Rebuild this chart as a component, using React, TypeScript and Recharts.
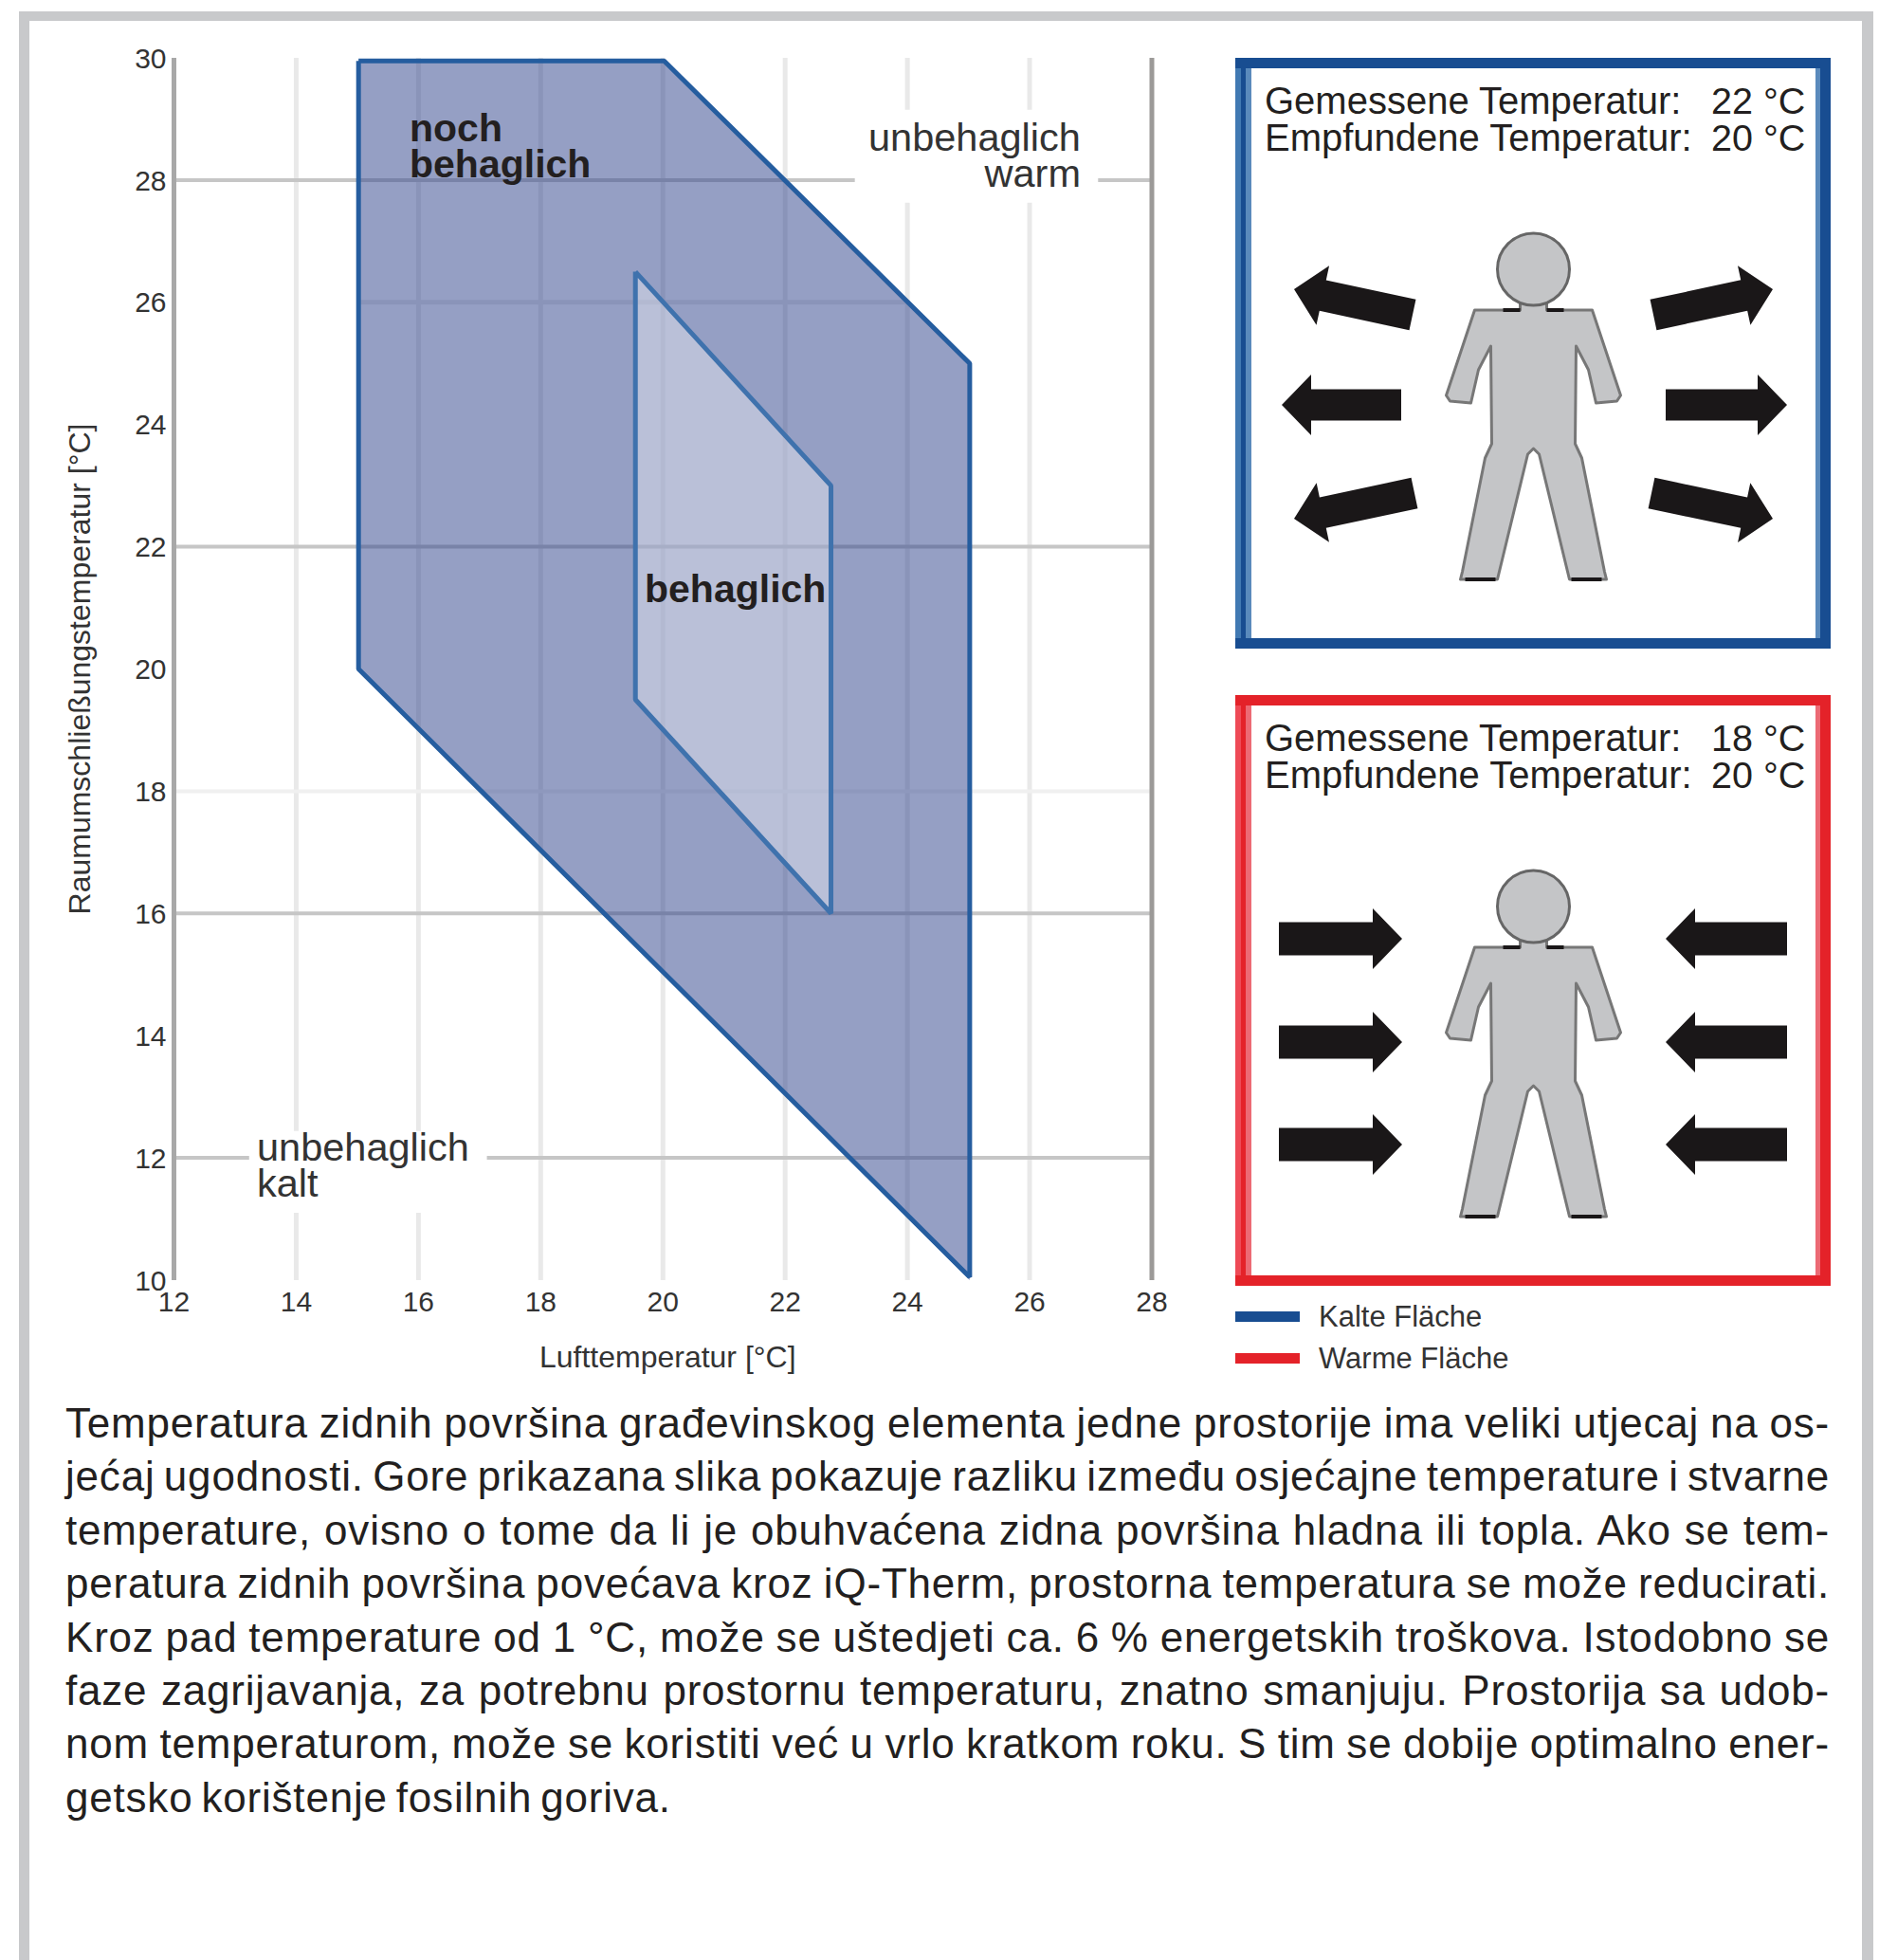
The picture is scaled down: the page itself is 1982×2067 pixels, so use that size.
import {
  Area,
  ComposedChart,
  Line,
  ReferenceArea,
  ReferenceLine,
  XAxis,
  YAxis,
} from "recharts";

const FONT = "'Liberation Sans', Arial, sans-serif";
const INK = "#231f20";

const xTicks = [12, 14, 16, 18, 20, 22, 24, 26, 28];
const yTicks = [10, 12, 14, 16, 18, 20, 22, 24, 26, 28, 30];
const strongRows = [12, 16, 22, 28];
const faintColumns = [14, 16, 18, 20, 22, 24, 26];

// "noch behaglich" band
const outerX = [15.02, 20.02, 25.02];
const outerLow = [20, 15, 10];
const outerHigh = [29.95, 29.95, 25];
const outerRingX = [15.02, 20.02, 25.02, 25.02, 15.02, 15.02];
const outerRingY = [29.95, 29.95, 25, 10.05, 20, 29.95];

// "behaglich" band
const innerX = [19.55, 22.75];
const innerLow = [19.5, 16];
const innerHigh = [26.5, 23];
const innerRingX = [19.55, 22.75, 22.75, 19.55, 19.55];
const innerRingY = [26.5, 23, 16, 19.5, 26.5];

const outerBand = outerX.map((x, i) => ({ x, range: [outerLow[i], outerHigh[i]] }));
const innerBand = innerX.map((x, i) => ({ x, range: [innerLow[i], innerHigh[i]] }));
const outerRing = outerRingX.map((x, i) => ({ x, y: outerRingY[i] }));
const innerRing = innerRingX.map((x, i) => ({ x, y: innerRingY[i] }));

const paragraph = [
  "Temperatura zidnih površina građevinskog elementa jedne prostorije ima veliki utjecaj na os-",
  "jećaj ugodnosti. Gore prikazana slika pokazuje razliku između osjećajne temperature i stvarne",
  "temperature, ovisno o tome da li je obuhvaćena zidna površina hladna ili topla. Ako se tem-",
  "peratura zidnih površina povećava kroz iQ-Therm, prostorna temperatura se može reducirati.",
  "Kroz pad temperature od 1 °C, može se uštedjeti ca. 6 % energetskih troškova. Istodobno se",
  "faze zagrijavanja, za potrebnu prostornu temperaturu, znatno smanjuju. Prostorija sa udob-",
  "nom temperaturom, može se koristiti već u vrlo kratkom roku. S tim se dobije optimalno ener-",
  "getsko korištenje fosilnih goriva.",
];

function Arrow({ tipX, tipY, tailX, tailY, shaft = 16.5 }: { tipX: number; tipY: number; tailX: number; tailY: number; shaft?: number }) {
  const len = Math.hypot(tipX - tailX, tipY - tailY);
  const deg = (Math.atan2(tipY - tailY, tipX - tailX) * 180) / Math.PI;
  return (
    <polygon
      transform={`translate(${tailX} ${tailY}) rotate(${deg})`}
      points={`0,${-shaft} ${len - 31},${-shaft} ${len - 31},-32 ${len},0 ${len - 31},32 ${len - 31},${shaft} 0,${shaft}`}
      fill="#1a1718"
    />
  );
}

function Person({ cx, cy }: { cx: number; cy: number }) {
  const half = "-14,35 -14,43 -62,43 -92,133 -88,139 -66,141 -58,106 -45,81 -44,184 -51,199 -75,319 -77,327 -38,327 -6,195 0,189";
  const left = half.split(" ").map((p) => p.split(",").map(Number));
  const right = [...left].reverse().slice(1).map(([x, y]) => [-x, y]);
  const points = [...left, ...right].map((p) => p.join(",")).join(" ");
  return (
    <g transform={`translate(${cx} ${cy})`}>
      <polygon points={points} fill="#c4c5c7" stroke="#777" strokeWidth={3} strokeLinejoin="round" />
      <circle r={38} fill="#c4c5c7" stroke="#666" strokeWidth={3} />
      <path d="M-72,327H-40M40,327H72M-32,43H-14M14,43H32" stroke="#1a1718" strokeWidth={4} />
    </g>
  );
}

function Panel({
  top,
  dark,
  light,
  mid,
  measured,
  felt,
  children,
}: {
  top: number;
  dark: string;
  light: string;
  mid: string;
  measured: string;
  felt: string;
  children: React.ReactNode;
}) {
  const left = 1303;
  const w = 628;
  const h = 623;
  return (
    <g transform={`translate(${left} ${top})`}>
      <rect x={0} y={0} width={w} height={h} fill={dark} />
      <rect x={0} y={11} width={6} height={h - 22} fill={light} />
      <rect x={11} y={11} width={6} height={h - 22} fill={mid} />
      <rect x={612} y={11} width={5} height={h - 22} fill={mid} />
      <rect x={17} y={11} width={595} height={h - 22} fill="#fff" />
      <text x={31} y={59} fontSize={40} fill={INK}>Gemessene Temperatur:</text>
      <text x={31} y={98} fontSize={40} fill={INK}>Empfundene Temperatur:</text>
      <text x={502} y={59} fontSize={39.5} fill={INK}>{measured}</text>
      <text x={502} y={98} fontSize={39.5} fill={INK}>{felt}</text>
      <Person cx={314.5} cy={223} />
      {children}
    </g>
  );
}

export default function App() {
  return (
    <div style={{ position: "absolute", left: 0, top: 0, width: 1982, height: 2067, background: "#fff", overflow: "hidden", fontFamily: FONT }}>
      <div style={{ position: "absolute", left: 20, top: 12, width: 1956, height: 2055, boxSizing: "border-box", borderStyle: "solid", borderColor: "#c8c9cb", borderWidth: "10px 12px 0 11px" }} />

      <div style={{ position: "absolute", left: 0, top: 0 }}>
        <ComposedChart
          width={1300}
          height={1460}
          margin={{ top: 61, right: 85, bottom: 50, left: 61.5 }}
          style={{ fontFamily: FONT }}
        >
          <XAxis
            type="number"
            dataKey="x"
            domain={[12, 28]}
            ticks={xTicks}
            interval={0}
            height={60}
            tickLine={false}
            axisLine={false}
            tick={{ fill: "#333", fontSize: 30 }}
            tickMargin={6}
            label={{ value: "Lufttemperatur [°C]", position: "bottom", offset: 9, dx: 5, fontSize: 32, fill: "#333" }}
          />
          <YAxis
            type="number"
            domain={[10, 30]}
            ticks={yTicks}
            interval={0}
            width={122}
            tickLine={false}
            axisLine={{ stroke: "#a8a8a8", strokeWidth: 5 }}
            tick={{ fill: "#333", fontSize: 30 }}
            tickMargin={2}
            label={{ value: "Raumumschließungstemperatur [°C]", angle: -90, position: "insideLeft", offset: 22, fontSize: 32, fill: "#333", style: { textAnchor: "middle" } }}
          />

          {faintColumns.map((x) => (
            <ReferenceLine key={x} x={x} stroke="#e9e9e9" strokeWidth={5} zIndex={10} />
          ))}
          <ReferenceLine y={18} stroke="#f0f0f0" strokeWidth={4} zIndex={10} />
          <ReferenceLine segment={[{ x: 15, y: 26 }, { x: 24, y: 26 }]} stroke="#e9e9e9" strokeWidth={5} zIndex={10} />
          {strongRows.map((y) => (
            <ReferenceLine key={y} y={y} stroke="#c6c6c6" strokeWidth={4} zIndex={10} />
          ))}
          <ReferenceArea x1={23.14} x2={27.12} y1={27.63} y2={29.15} fill="#fff" fillOpacity={1} stroke="none" zIndex={20} />
          <ReferenceArea x1={13.23} x2={17.12} y1={11.1} y2={12.44} fill="#fff" fillOpacity={1} stroke="none" zIndex={20} />
          <ReferenceLine x={28} stroke="#9c9a98" strokeWidth={5} zIndex={30} />

          <Area data={outerBand} dataKey="range" type="linear" fill="#2b3f8a" fillOpacity={0.5} stroke="none" isAnimationActive={false} zIndex={100} />
          <Area data={innerBand} dataKey="range" type="linear" fill="#fff" fillOpacity={0.35} stroke="none" isAnimationActive={false} zIndex={110} />
          <Line data={outerRing} dataKey="y" type="linear" stroke="#255d9f" strokeWidth={5} strokeLinejoin="bevel" dot={false} activeDot={false} isAnimationActive={false} />
          <Line data={innerRing} dataKey="y" type="linear" stroke="#3f72ad" strokeWidth={5} strokeLinejoin="bevel" dot={false} activeDot={false} isAnimationActive={false} />
        </ComposedChart>
      </div>

      <svg width={1982} height={2067} style={{ position: "absolute", left: 0, top: 0, fontFamily: FONT }}>
        <g fill={INK} fontSize={41} fontWeight="bold">
          <text x={432} y={149}>noch</text>
          <text x={432} y={187}>behaglich</text>
          <text x={680} y={635}>behaglich</text>
        </g>
        <g fill="#333" fontSize={41.5}>
          <text x={916} y={159}>unbehaglich</text>
          <text x={1140} y={197} textAnchor="end">warm</text>
          <text x={271} y={1224}>unbehaglich</text>
          <text x={271} y={1262}>kalt</text>
        </g>

        <Panel top={61} dark="#184d91" light="#4179b2" mid="#5a8abc" measured="22 °C" felt="20 °C">
          <Arrow tipX={49} tipY={366} tailX={175} tailY={366} />
          <Arrow tipX={582} tipY={366} tailX={454} tailY={366} />
          <Arrow tipX={62} tipY={244} tailX={187} tailY={271} />
          <Arrow tipX={567} tipY={244} tailX={441} tailY={271} />
          <Arrow tipX={62} tipY={486} tailX={189} tailY={459} />
          <Arrow tipX={567} tipY={486} tailX={439} tailY={459} />
        </Panel>
        <Panel top={733} dark="#e42229" light="#ee4a56" mid="#ec6a74" measured="18 °C" felt="20 °C">
          {[257, 366, 474].map((y) => (
            <g key={y}>
              <Arrow tipX={176} tipY={y} tailX={46} tailY={y} shaft={17.5} />
              <Arrow tipX={454} tipY={y} tailX={582} tailY={y} shaft={17.5} />
            </g>
          ))}
        </Panel>

        <rect x={1303} y={1383} width={68} height={11} fill="#184d91" />
        <rect x={1303} y={1427} width={68} height={11} fill="#e42229" />
        <text x={1391} y={1399} fontSize={31} fill="#333">Kalte Fläche</text>
        <text x={1391} y={1443} fontSize={31} fill="#333">Warme Fläche</text>
      </svg>

      <div style={{ position: "absolute", left: 69, top: 1473, width: 1861, fontSize: 44, lineHeight: "56.4px", letterSpacing: 0.8, wordSpacing: -4, color: INK }}>
        {paragraph.map((line, i) => (
          <div key={i} style={{ textAlign: i < paragraph.length - 1 ? "justify" : "left", textAlignLast: i < paragraph.length - 1 ? "justify" : "left", whiteSpace: "nowrap" }}>
            {line}
          </div>
        ))}
      </div>
    </div>
  );
}
